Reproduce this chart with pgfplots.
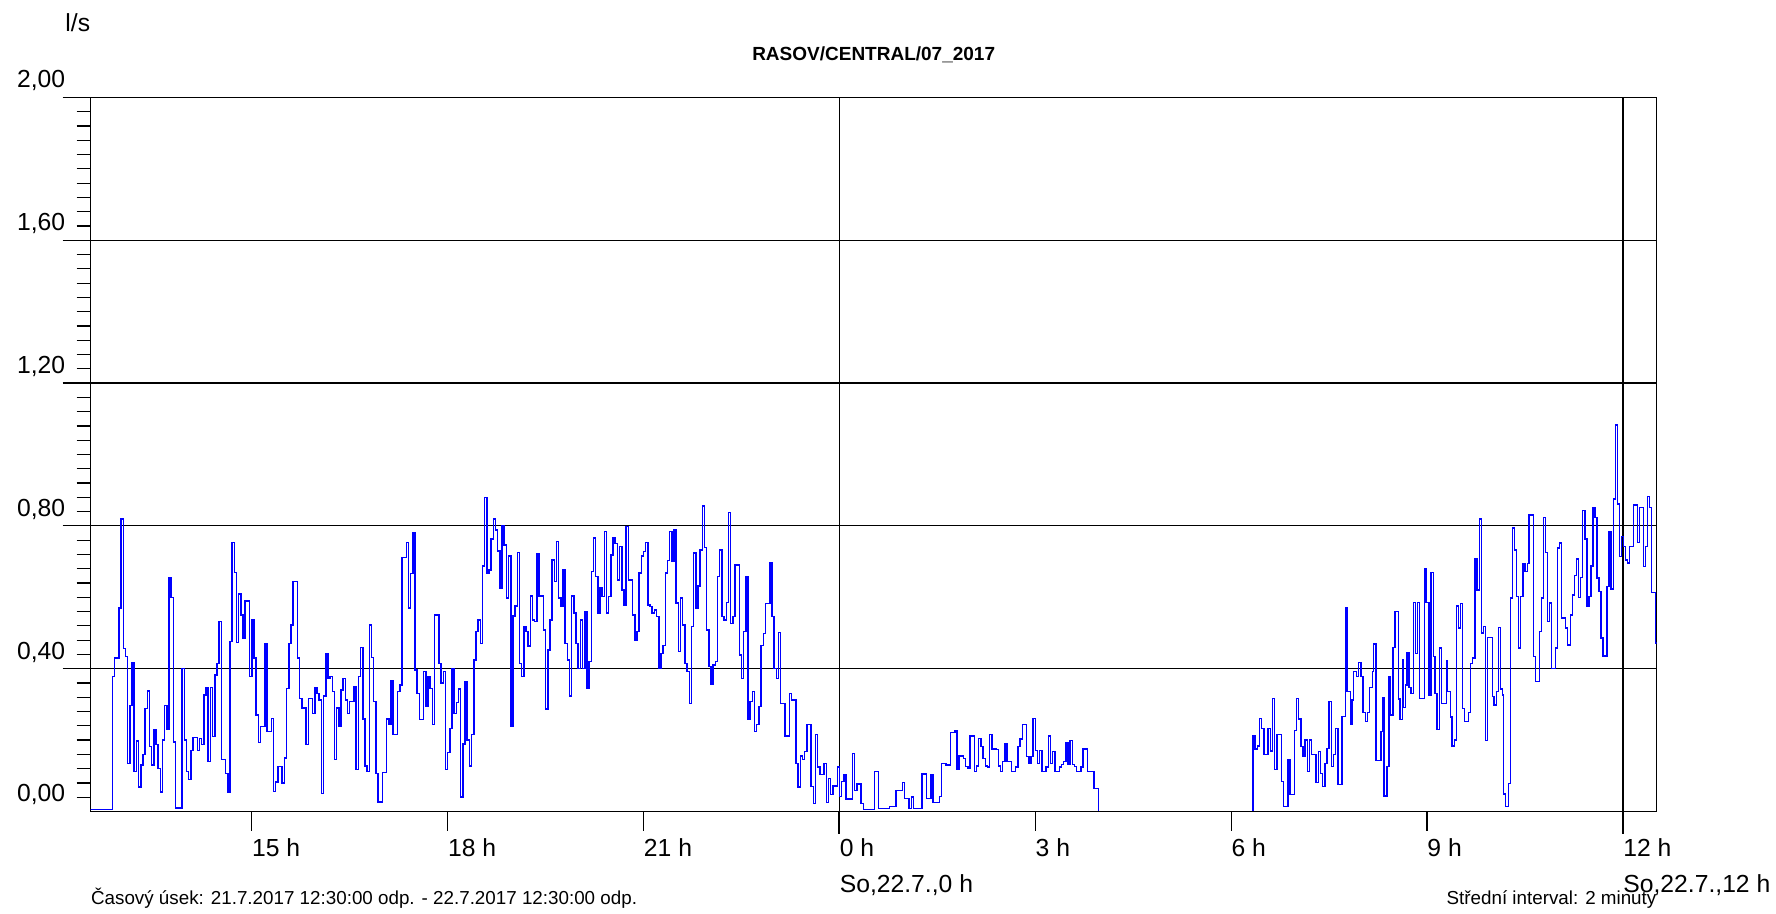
\documentclass[border=0pt]{standalone}
\usepackage{pgfplots}
\pgfplotsset{compat=1.18}
\usepackage{fontspec}
\setmainfont{Liberation Sans}
\begin{document}
\begin{tikzpicture}
\useasboundingbox (-45.35pt,-51.25pt) rectangle (842.65pt,405.75pt);
\begin{axis}[
  name=ax, at={(0,0)}, anchor=south west,
  scale only axis, width=783pt, height=357pt,
  xmin=2, xmax=1441, ymin=0, ymax=2,
  axis line style={black, line width=0.6pt},
  tick align=outside,
  xtick pos=left, ytick pos=left,
  every tick/.style={black, line width=0.6pt},
  xtick={150,330,510,870,1050,1230},
  xticklabels={15 h,18 h,21 h,3 h,6 h,9 h},
  minor xtick={},
  extra x ticks={690,1410},
  extra x tick labels={{0 h\\So,22.7.,0 h},{12 h\\So,22.7.,12 h}},
  extra x tick style={grid=major, xtick style={/pgfplots/major tick length=11pt, line width=1pt}},
  xtick style={/pgfplots/major tick length=9.5pt},
  ytick={0.4,0.8,1.2,1.6,2},
  minor ytick={0.04,0.08,...,1.97},
  extra y ticks={0},
  extra y tick style={grid=none, ytick style={draw=none}},
  ytick style={/pgfplots/major tick length=14pt, /pgfplots/minor tick length=7pt},
  ymajorgrids=true,
  major grid style={black, line width=0.6pt},
  xticklabel style={anchor=north west, inner sep=0pt, align=left, yshift=-9.1pt, font=\fontsize{12.35}{18.15}\selectfont},
  yticklabel style={anchor=base east, inner sep=0pt, xshift=-8.3pt, yshift=4.75pt, font=\fontsize{12.35}{15}\selectfont},
  /pgf/number format/fixed,
  /pgf/number format/fixed zerofill,
  /pgf/number format/precision=2,
  /pgf/number format/use comma,
  /pgf/number format/assume math mode=true,
  title={RASOV/CENTRAL/07\_2017},
  title style={at={(0.5,1)}, anchor=base, yshift=12.6pt, inner sep=0pt, font=\bfseries\fontsize{9.5}{11}\selectfont},
]
\addplot[const plot, color=blue, line width=0.75pt, mark=none] coordinates {
(0,0.005) (22,0.378) (24,0.43) (28,0.57) (30,0.82) (32,0.456) (34,0.434) (36,0.135) (38,0.297) (40,0.418) (42,0.112) (44,0.198) (46,0.068) (48,0.13) (50,0.16) (52,0.288) (54,0.338) (56,0.182) (58,0.13) (60,0.229) (62,0.187) (64,0.121) (66,0.054) (68,0.2) (70,0.297) (72,0.229) (74,0.654) (76,0.6) (78,0.194) (80,0.01) (86,0.4) (88,0.2) (90,0.112) (92,0.09) (94,0.171) (96,0.207) (100,0.171) (102,0.205) (104,0.187) (106,0.327) (108,0.348) (110,0.14) (112,0.348) (114,0.21) (116,0.383) (118,0.415) (120,0.532) (122,0.145) (126,0.107) (128,0.054) (130,0.476) (132,0.754) (134,0.67) (136,0.474) (138,0.609) (140,0.55) (142,0.486) (144,0.59) (148,0.378) (150,0.537) (152,0.43) (154,0.27) (156,0.193) (158,0.238) (162,0.47) (164,0.224) (168,0.26) (170,0.056) (172,0.082) (174,0.126) (178,0.08) (180,0.15) (182,0.345) (184,0.47) (186,0.523) (188,0.644) (192,0.43) (194,0.316) (196,0.29) (200,0.187) (202,0.316) (206,0.275) (208,0.348) (210,0.33) (212,0.313) (214,0.05) (216,0.324) (218,0.442) (220,0.372) (222,0.378) (224,0.336) (226,0.145) (228,0.29) (230,0.238) (232,0.34) (234,0.373) (236,0.313) (238,0.275) (240,0.308) (244,0.35) (246,0.117) (248,0.378) (250,0.46) (252,0.259) (254,0.128) (256,0.112) (258,0.523) (260,0.432) (262,0.308) (264,0.107) (266,0.026) (270,0.109) (274,0.259) (276,0.243) (278,0.366) (280,0.215) (284,0.336) (286,0.355) (288,0.712) (292,0.754) (294,0.57)
(296,0.666) (298,0.78) (300,0.397) (302,0.331) (304,0.257) (308,0.392) (310,0.296) (312,0.378) (314,0.345) (316,0.243) (318,0.551) (322,0.415) (324,0.36) (326,0.392) (328,0.117) (330,0.165) (332,0.233) (334,0.4) (336,0.275) (338,0.305) (340,0.343) (342,0.04) (344,0.189) (346,0.364) (348,0.2) (350,0.128) (352,0.215) (354,0.425) (356,0.504) (358,0.537) (360,0.47) (362,0.688) (364,0.88) (366,0.668) (368,0.677) (370,0.763) (372,0.819) (374,0.789) (376,0.73) (378,0.626) (380,0.801) (382,0.747) (384,0.598) (386,0.716) (388,0.238) (390,0.548) (392,0.576) (394,0.725) (396,0.415) (398,0.378) (400,0.518) (402,0.504) (404,0.464) (406,0.604) (408,0.537) (410,0.532) (412,0.722) (414,0.604) (418,0.509) (420,0.287) (422,0.453) (424,0.537) (426,0.705) (428,0.644) (430,0.756) (432,0.598) (434,0.574) (436,0.677) (438,0.47) (440,0.425) (442,0.324) (444,0.604) (446,0.556) (448,0.47) (450,0.401) (452,0.537) (454,0.401) (456,0.56) (458,0.345) (460,0.42) (462,0.672) (464,0.766) (466,0.658) (468,0.556) (470,0.626) (472,0.602) (474,0.784) (476,0.556) (478,0.602) (480,0.719) (482,0.766) (484,0.75) (486,0.649) (488,0.742) (490,0.621) (492,0.579) (494,0.798) (496,0.649) (500,0.551) (502,0.481) (504,0.504) (506,0.668) (508,0.716) (510,0.728) (512,0.754) (514,0.579) (516,0.574) (518,0.556) (520,0.565) (522,0.546) (524,0.401) (526,0.443) (528,0.465) (530,0.668) (532,0.703) (534,0.784) (536,0.7) (538,0.789) (540,0.584) (542,0.448) (544,0.598) (546,0.523) (548,0.415) (550,0.392) (552,0.302) (554,0.518) (556,0.724) (558,0.57) (560,0.632) (562,0.733) (564,0.856) (566,0.74) (568,0.509) (570,0.406) (572,0.357) (574,0.411) (576,0.42) (578,0.658) (580,0.733)
(582,0.546) (584,0.537) (586,0.585) (588,0.838) (590,0.527) (592,0.546) (594,0.691) (598,0.439) (600,0.373) (602,0.504) (604,0.658) (606,0.257) (608,0.308) (610,0.336) (612,0.224) (614,0.243) (616,0.294) (618,0.465) (620,0.498) (622,0.582) (626,0.696) (628,0.546) (630,0.401) (632,0.373) (634,0.501) (636,0.302) (640,0.212) (644,0.33) (646,0.313) (650,0.135) (652,0.068) (654,0.156) (656,0.145) (658,0.168) (660,0.243) (664,0.07) (666,0.023) (668,0.215) (670,0.124) (672,0.103) (676,0.135) (678,0.025) (680,0.093) (682,0.047) (684,0.072) (688,0.124) (690,0.042) (692,0.084) (694,0.103) (696,0.035) (702,0.162) (704,0.059) (706,0.077) (710,0.023) (712,0.005) (722,0.112) (726,0.009) (736,0.014) (742,0.059) (748,0.081) (750,0.037) (754,0.009) (756,0.04) (758,0.009) (766,0.105) (770,0.037) (774,0.103) (776,0.025) (782,0.042) (784,0.135) (788,0.13) (792,0.221) (796,0.227) (798,0.117) (800,0.156) (804,0.149) (806,0.126) (808,0.121) (810,0.212) (814,0.112) (816,0.128) (818,0.205) (820,0.182) (822,0.149) (824,0.128) (826,0.124) (828,0.215) (830,0.175) (834,0.173) (836,0.128) (838,0.112) (840,0.14) (842,0.191) (844,0.14) (848,0.112) (852,0.124) (854,0.182) (856,0.203) (858,0.243) (862,0.154) (864,0.135) (866,0.154) (868,0.261) (870,0.171) (872,0.135) (874,0.171) (876,0.112) (880,0.124) (882,0.212) (884,0.135) (886,0.168) (888,0.112) (892,0.124) (894,0.131) (896,0.14) (898,0.193) (900,0.131) (902,0.199) (904,0.131) (906,0.126) (908,0.112) (912,0.124) (914,0.175) (918,0.112) (924,0.065) (928,0)
};
\addplot[const plot, color=blue, line width=0.75pt, mark=none] coordinates {
(1070,0) (1070,0.212) (1072,0.175) (1074,0.184) (1076,0.261) (1078,0.233) (1080,0.159) (1084,0.233) (1086,0.17) (1088,0.317) (1090,0.117) (1092,0.215) (1096,0.084) (1098,0.014) (1102,0.145) (1104,0.047) (1108,0.227) (1110,0.317) (1112,0.259) (1114,0.182) (1116,0.154) (1118,0.2) (1120,0.112) (1122,0.2) (1124,0.159) (1128,0.081) (1130,0.168) (1132,0.107) (1134,0.07) (1136,0.135) (1138,0.177) (1140,0.308) (1142,0.126) (1144,0.159) (1146,0.233) (1148,0.075) (1152,0.266)
(1154.8,0.572) (1156.4,0.336) (1159.4,0.243) (1161.2,0.313) (1162.4,0.392) (1164.9,0.378) (1166.8,0.418) (1169.2,0.378) (1171.0,0.278) (1173.4,0.252) (1175.4,0.278) (1177.2,0.348) (1179.6,0.392) (1180.8,0.469) (1183.2,0.143) (1187.6,0.224) (1188.8,0.32) (1190.6,0.044) (1193.0,0.126) (1194.9,0.378) (1196.2,0.271) (1198.6,0.46) (1200.4,0.56) (1203.5,0.315) (1205.3,0.257) (1207.2,0.425) (1208.4,0.292) (1210.2,0.355) (1211.5,0.444) (1213.3,0.348) (1215.2,0.331) (1217.6,0.586) (1219.4,0.442) (1221.3,0.586) (1223.1,0.317) (1227.4,0.68) (1229.2,0.586) (1231.7,0.327) (1233.5,0.67) (1236.0,0.434) (1237.2,0.331) (1239.0,0.229) (1241.5,0.458) (1243.3,0.302) (1247.6,0.423) (1248.8,0.336) (1251.3,0.264) (1253.1,0.184) (1255.0,0.2) (1256.8,0.576) (1258.7,0.514) (1260.5,0.582) (1262.3,0.289) (1264.2,0.252) (1267.9,0.278) (1269.7,0.415) (1271.5,0.43) (1274.0,0.707) (1275.8,0.621) (1278.3,0.82) (1280.1,0.5) (1281.9,0.518) (1283.8,0.199) (1285.6,0.488) (1289.9,0.322) (1291.7,0.299) (1293.6,0.336) (1295.4,0.516) (1297.3,0.343) (1299.1,0.327) (1300.3,0.049) (1302.2,0.014) (1304.6,0.079) (1306.5,0.598) (1308.3,0.794) (1310.1,0.733) (1312.0,0.602) (1313.8,0.458) (1315.6,0.602) (1318.1,0.694) (1319.9,0.672) (1322.4,0.694) (1323.6,0.831) (1327.9,0.434) (1329.7,0.364) (1333.4,0.504) (1335.2,0.598) (1337.1,0.824) (1338.9,0.725) (1340.8,0.532) (1342.6,0.584) (1344.4,0.401) (1348.1,0.458) (1350.0,0.738) (1351.8,0.752) (1353.6,0.542) (1357.3,0.514) (1359.1,0.467) (1361.6,0.551) (1363.4,0.607) (1365.3,0.661) (1367.1,0.707) (1368.9,0.6) (1370.8,0.656) (1372.6,0.843) (1375.1,0.763) (1376.9,0.574) (1378.8,0.602) (1380.6,0.688) (1382.4,0.852) (1384.3,0.824) (1386.1,0.654) (1387.9,0.616) (1389.8,0.486) (1391.6,0.436) (1395.3,0.63) (1397.1,0.784) (1399.0,0.623) (1401.4,0.875) (1403.3,1.083) (1405.1,0.862) (1406.9,0.714) (1408.8,0.77) (1410.6,0.742) (1412.5,0.705) (1414.3,0.696) (1416.1,0.742) (1419.8,0.859) (1423.5,0.754) (1425.3,0.852) (1429.0,0.686) (1430.8,0.742) (1432.7,0.882) (1434.5,0.852) (1436.3,0.613) (1440.0,0.472) (1443,0.472)
};
\end{axis}
\node[anchor=base west, inner sep=0pt, font=\fontsize{12.35}{15}\selectfont] at ([shift={(-12.85pt,32.9pt)}]ax.north west) {l/s};
\node[anchor=base west, inner sep=0pt, font=\fontsize{9.4}{11}\selectfont] at ([yshift=-46.6pt]ax.south west) {Časový úsek: 21.7.2017 12:30:00 odp. - 22.7.2017 12:30:00 odp.};
\node[anchor=base east, inner sep=0pt, font=\fontsize{9.4}{11}\selectfont] at ([yshift=-46.6pt]ax.south east) {Střední interval: 2 minuty};
\end{tikzpicture}
\end{document}
